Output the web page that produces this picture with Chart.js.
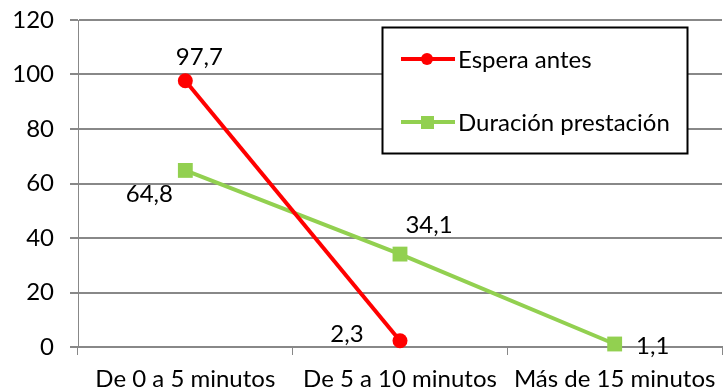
<!DOCTYPE html>
<html>
<head>
<meta charset="utf-8">
<script src="https://cdn.jsdelivr.net/npm/chart.js@4.4.0/dist/chart.umd.min.js"></script>
<style>
  html, body { margin: 0; padding: 0; background: #fff; }
  #wrap { width: 726px; height: 392px; position: relative; }
</style>
</head>
<body>
<div id="wrap"><canvas id="chart" width="726" height="392"></canvas></div>
<script>
  // data
  const categories = ['De 0 a 5 minutos', 'De 5 a 10 minutos', 'Más de 15 minutos'];
  const esperaAntes = [97.7, 2.3, null];
  const duracionPrestacion = [64.8, 34.1, 1.1];
  const yTicks = [0, 20, 40, 60, 80, 100, 120];

  const FONT = 'Lato, "Open Sans", sans-serif';
  const FSIZE = 24;

  // where each value label sits relative to its point (dx, dy)
  const labelOffsets = [
    [[14, -24], [-53, -6], null],
    [[-36, 24], [29, -29], [38, 2]]
  ];

  function fmt(v) { return String(v).replace('.', ','); }

  const valueLabels = {
    id: 'valueLabels',
    afterDatasetsDraw(chart) {
      const ctx = chart.ctx;
      ctx.save();
      ctx.font = FSIZE + 'px ' + FONT;
      ctx.fillStyle = '#000';
      ctx.textAlign = 'center';
      ctx.textBaseline = 'middle';
      chart.data.datasets.forEach((ds, di) => {
        chart.getDatasetMeta(di).data.forEach((pt, i) => {
          const v = ds.data[i];
          const off = labelOffsets[di][i];
          if (v === null || !off) return;
          ctx.fillText(fmt(v), pt.x + off[0], pt.y + off[1]);
        });
      });
      ctx.restore();
    }
  };

  // boxed legend drawn inside the plot, like the original
  const boxLegend = {
    id: 'boxLegend',
    afterDraw(chart) {
      const ctx = chart.ctx;
      const x = 382.5, y = 27.5, w = 305, h = 126;
      ctx.save();
      ctx.fillStyle = '#fff';
      ctx.fillRect(x, y, w, h);
      ctx.strokeStyle = '#000';
      ctx.lineWidth = 2;
      ctx.strokeRect(x, y, w, h);
      const rows = [59, 122];
      chart.data.datasets.forEach((ds, i) => {
        const ry = rows[i];
        ctx.strokeStyle = ds.borderColor;
        ctx.lineWidth = 4;
        ctx.beginPath();
        ctx.moveTo(401, ry);
        ctx.lineTo(455, ry);
        ctx.stroke();
        ctx.fillStyle = ds.backgroundColor;
        if (ds.pointStyle === 'rect') {
          ctx.fillRect(421, ry - 6, 13, 13);
        } else {
          ctx.beginPath();
          ctx.arc(427, ry, 6, 0, Math.PI * 2);
          ctx.fill();
        }
        ctx.fillStyle = '#000';
        ctx.font = FSIZE + 'px ' + FONT;
        ctx.textAlign = 'left';
        ctx.textBaseline = 'middle';
        ctx.fillText(ds.label, 458, ry + 1);
      });
      ctx.restore();
    }
  };

  new Chart(document.getElementById('chart'), {
    type: 'line',
    data: {
      labels: categories,
      datasets: [
        {
          label: 'Espera antes',
          data: esperaAntes,
          borderColor: '#ff0000',
          backgroundColor: '#ff0000',
          borderWidth: 4,
          pointStyle: 'circle',
          pointRadius: 7.5,
          pointBorderWidth: 0,
          spanGaps: false,
          clip: false
        },
        {
          label: 'Duración prestación',
          data: duracionPrestacion,
          borderColor: '#92d050',
          backgroundColor: '#92d050',
          borderWidth: 4,
          pointStyle: 'rect',
          pointRadius: 10.5,
          pointBorderWidth: 0,
          clip: false
        }
      ]
    },
    options: {
      responsive: false,
      animation: false,
      layout: { autoPadding: false, padding: { top: 20, right: 4, left: 0, bottom: 0 } },
      plugins: { legend: { display: false }, tooltip: { enabled: false } },
      scales: {
        x: {
          offset: true,
          grid: { display: true, drawOnChartArea: false, offset: true, color: '#888', tickLength: 8 },
          border: { color: '#888', width: 2 },
          ticks: { color: '#000', font: { family: FONT, size: FSIZE }, padding: 10, maxRotation: 0 },
          afterFit(scale) { scale.height = 45; scale.paddingLeft = 0; scale.paddingRight = 0; }
        },
        y: {
          min: 0,
          max: 120,
          afterBuildTicks(scale) { scale.ticks = yTicks.map(v => ({ value: v })); },
          grid: { color: '#888', lineWidth: 2, tickLength: 8 },
          border: { color: '#888', width: 1 },
          ticks: { color: '#000', font: { family: FONT, size: FSIZE }, padding: 16 },
          afterFit(scale) { scale.width = 78; scale.paddingTop = 0; scale.paddingBottom = 0; }
        }
      }
    },
    plugins: [valueLabels, boxLegend]
  });
</script>
</body>
</html>
